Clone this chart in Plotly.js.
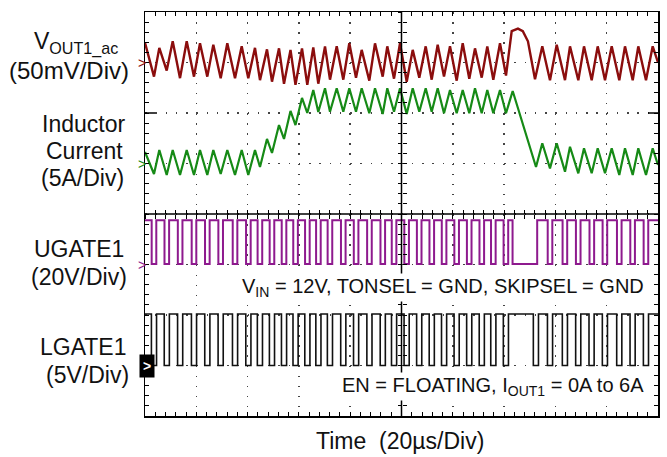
<!DOCTYPE html>
<html><head><meta charset="utf-8">
<script src="https://cdn.plot.ly/plotly-3.0.1.min.js"></script>
<style>html,body{margin:0;padding:0;background:#fff;}#chart{width:667px;height:457px;}</style>
</head><body><div id="chart"></div>
<script>
// Time base: 20 µs/div, 10 div -> 0..200 µs
// Inductor current vertices (µs, A)
const ilT = [0,3.51,5.58,8.46,10.80,13.65,16.26,19.10,21.44,24.29,26.63,29.51,32.09,35.09,37.70,40.27,42.88,44.83,47.56,49.51,52.24,54.19,56.73,58.67,61.21,63.27,65.61,67.56,70.18,72.12,74.74,77.31,79.65,82.26,84.48,87.45,89.67,92.67,94.46,97.08,99.42,102.03,104.37,106.94,109.44,111.77,114.11,116.57,118.91,121.52,123.86,126.43,128.65,131.27,133.45,135.79,138.40,140.74,143.35,152.44,154.89,157.89,160.51,163.74,165.69,168.93,171.15,174.15,176.49,179.34,181.95,184.91,187.13,190.14,192.32,195.32,197.93,200];
const ilA = [1.14,-1.04,1.34,-1.14,1.34,-1.14,1.34,-1.14,1.34,-1.14,1.34,-1.04,1.34,-1.14,1.34,-1.14,1.34,-0.35,2.43,1.04,3.81,2.43,5.20,3.81,6.49,5.00,7.28,5.10,7.45,5.13,7.45,5.13,7.45,5.13,7.45,4.97,7.45,4.90,7.45,5.13,7.45,4.90,7.45,5.13,7.45,5.13,7.45,4.97,7.28,4.97,7.28,4.97,7.45,4.97,7.28,4.97,7.28,4.97,7.18,-0.35,2.00,-0.48,2.00,-0.81,1.66,-0.97,1.50,-0.97,1.50,-0.97,1.50,-1.14,1.50,-1.14,1.50,-1.14,1.50,-0.15];

// VOUT1 ac ripple vertices (µs, mV)
const voT = [0,3.51,5.58,8.46,10.80,13.65,16.26,19.10,21.44,24.29,26.63,29.51,32.09,35.09,37.70,40.27,42.88,44.83,47.56,49.51,52.24,54.19,56.73,58.67,61.21,63.27,65.61,67.56,70.18,72.12,74.74,77.31,79.65,82.26,84.48,87.45,89.67,92.67,94.46,97.08,99.42,102.03,104.37,106.94,109.44,111.77,114.11,116.57,118.91,121.52,123.86,126.43,128.65,131.27,133.45,135.79,138.40,140.74,142.96,145.4,147.3,149.3,152.05,154.89,157.89,160.51,163.74,165.69,168.93,171.15,174.15,176.49,179.34,181.95,184.91,187.13,190.14,192.32,195.32,197.93,200];
const voMv = [19.5,-14,14.5,-8,21,-15.5,21,-14,19,-14,17.5,-15.5,19,-15.5,16,-15.5,14.5,-17.5,13,-19,14,-21,12.5,-22,14,-22,15,-21,16,-17,16,-17,19,-15,12.5,-18,19,-14,16,-16,19,-19,12.5,-15,16,-17,17.5,-14,16,-18,19,-16,14,-15,16,-17,19,-13,31,33.5,31,21,-16.5,16,-17.5,17.5,-17.5,16,-17.5,16,-17.5,16,-17.5,16,-17.5,16,-17.5,16,-17.5,16,0];

// UGATE1 low intervals (µs)
const ugLowStart = [2.6,7.6,12.8,18.2,23.4,28.6,34.2,39.4,43.9,48.6,53.3,57.8,62.4,66.7,71.2,76.4,81.4,86.6,91.8,96.2,101.1,106.0,110.9,115.7,120.6,125.5,130.4,134.9,139.8,143.3,157.0,162.8,168.0,173.3,178.4,184.0,189.2,194.4];
const ugLowEnd   = [4.4,9.4,14.6,20.0,25.2,30.4,36.0,41.2,45.7,50.4,55.1,59.6,64.2,68.5,73.0,78.2,83.2,88.4,93.6,98.0,102.9,107.8,112.7,117.5,122.4,127.3,132.2,136.7,141.6,152.9,158.8,164.6,169.8,175.1,180.2,185.8,191.0,196.2];
// LGATE1 low intervals (µs)
const lgLowStart = [2.5,7.5,12.7,18.1,23.3,28.5,34.1,39.3,43.8,48.5,53.2,57.7,62.3,66.6,71.1,76.3,81.3,86.5,91.7,96.1,101.0,105.9,110.8,115.6,120.5,125.4,130.3,134.8,139.7,151.4,156.9,162.7,167.9,173.1,178.3,183.9,189.1,194.3];
const lgLowEnd   = [4.5,9.5,14.7,20.1,25.3,30.5,36.1,41.3,45.8,50.5,55.2,59.7,64.3,68.6,73.1,78.3,83.3,88.5,93.7,98.1,103.0,107.9,112.8,117.6,122.5,127.4,132.3,136.8,141.7,153.4,158.9,164.7,169.9,175.1,180.3,185.9,191.1,196.3];
const ugLevels = [17.5, 0.2];   // V high, low
const lgLevels = [5.1, 0.0];

// channel scale (units/div) and ground offset (div)
const ch = {
  vout:{scale:50, off:3, color:'#8b0d0d'},
  il:{scale:5, off:1, color:'#168a16'},
  ug:{scale:20, off:-1, color:'#8e1a8e'},
  lg:{scale:5, off:-3, color:'#111111'}
};
const toDiv = (arr, c) => arr.map(v => c.off + v / c.scale);
function gate(ls, le, lev) {
  const x = [0], y = [lev[0]];
  for (let i = 0; i < ls.length; i++) {
    x.push(ls[i], ls[i], le[i], le[i]);
    y.push(lev[0], lev[1], lev[1], lev[0]);
  }
  x.push(200); y.push(lev[0]);
  return {x, y};
}
const ug = gate(ugLowStart, ugLowEnd, ugLevels);
const lg = gate(lgLowStart, lgLowEnd, lgLevels);

const traces = [
  {x: voT, y: toDiv(voMv, ch.vout), mode:'lines', line:{color:ch.vout.color, width:2.4}, hoverinfo:'skip'},
  {x: ilT, y: toDiv(ilA, ch.il), mode:'lines', line:{color:ch.il.color, width:2.2}, hoverinfo:'skip'},
  {x: ug.x, y: toDiv(ug.y, ch.ug), mode:'lines', line:{color:ch.ug.color, width:2}, hoverinfo:'skip'},
  {x: lg.x, y: toDiv(lg.y, ch.lg), mode:'lines', line:{color:ch.lg.color, width:1.6}, hoverinfo:'skip'},
  {x: [], y: [], xaxis:'x2', yaxis:'y', showlegend:false},
  {x: [], y: [], xaxis:'x3', yaxis:'y', showlegend:false},
  {x: [], y: [], xaxis:'x', yaxis:'y2', showlegend:false},
  {x: [], y: [], xaxis:'x', yaxis:'y3', showlegend:false}
];

const L = 145, R = 658, T = 12, B = 416;
const px = x => (x - L) / (R - L);
const py = y => (B - y) / (B - T);
const font = 'Liberation Sans, Arial, sans-serif';

const xa = {range:[0,200], tickmode:'linear', tick0:0, dtick:20, showgrid:true, gridcolor:'#444', gridwidth:1.5,
  griddash:'1.5px,8.6px', zeroline:false, showline:true, linecolor:'#000', linewidth:1.5, mirror:'ticks',
  ticks:'inside', ticklen:4, tickcolor:'#000', tickwidth:1, showticklabels:false,
  minor:{tickmode:'linear', tick0:0, dtick:4, ticks:'inside', ticklen:4, tickcolor:'#000', tickwidth:1, showgrid:false}, fixedrange:true};
const ya = {range:[-4,4], tickmode:'linear', tick0:0, dtick:1, showgrid:true, gridcolor:'#444', gridwidth:1.5,
  griddash:'1.5px,8.76px', zeroline:false, showline:true, linecolor:'#000', linewidth:1.5, mirror:'ticks',
  ticks:'inside', ticklen:4, tickcolor:'#000', tickwidth:1, showticklabels:false,
  minor:{tickmode:'linear', tick0:0, dtick:0.2, ticks:'inside', ticklen:4, tickcolor:'#000', tickwidth:1, showgrid:false}, fixedrange:true};
const cx = t => ({overlaying:'x', anchor:'free', position:0.5, range:[0,200], tickmode:'linear', tick0:0, dtick:4,
  ticks:t, ticklen:4, tickcolor:'#000', tickwidth:1, showgrid:false, zeroline:false, showline:false, showticklabels:false, fixedrange:true});
const cy = t => ({overlaying:'y', anchor:'free', position:0.5, range:[-4,4], tickmode:'linear', tick0:0, dtick:0.2,
  ticks:t, ticklen:4, tickcolor:'#000', tickwidth:1, showgrid:false, zeroline:false, showline:false, showticklabels:false, fixedrange:true});

function lab(text, xr, yc, size, color, anchor) {
  return {text, xref:'paper', yref:'paper', x:px(xr), y:py(yc), xanchor:anchor||'right', yanchor:'middle',
    showarrow:false, font:{family:font, size:size||23, color:color||'#111'}};
}
const annotations = [
  lab('V<sub>OUT1_ac</sub>', 120, 43),
  lab('(50mV/Div)', 131, 70, 24),
  lab('Inductor', 127, 124),
  lab('Current', 125, 151),
  lab('(5A/Div)', 126, 178),
  lab('UGATE1', 126, 249),
  lab('(20V/Div)', 129, 277),
  lab('LGATE1', 129, 347),
  lab('(5V/Div)', 131, 375),
  lab('Time  (20µs/Div)', 400, 441, 23, '#111', 'center'),
  Object.assign(lab('V<sub>IN</sub> = 12V, TONSEL = GND, SKIPSEL = GND', 646, 287, 20), {bgcolor:'#fff'}),
  Object.assign(lab('EN = FLOATING, I<sub>OUT1</sub> = 0A to 6A', 646, 386, 20), {bgcolor:'#fff'}),
  // channel ground markers
  {text:'&gt;', xref:'paper', yref:'y', x:px(136), y:ch.vout.off, showarrow:false, font:{family:font, size:14, color:ch.vout.color}},
  {text:'&gt;', xref:'paper', yref:'y', x:px(136), y:ch.il.off, showarrow:false, font:{family:font, size:14, color:ch.il.color}},
  {text:'&gt;', xref:'paper', yref:'y', x:px(136), y:ch.ug.off, showarrow:false, font:{family:font, size:14, color:ch.ug.color}},
  {text:'<b>&gt;</b>', xref:'paper', yref:'y', x:px(138.5), y:ch.lg.off, showarrow:false, bgcolor:'#000', borderpad:3,
   font:{family:font, size:14, color:'#fff'}}
];

const shapes = [
  {type:'line', xref:'x', yref:'paper', x0:100, x1:100, y0:0, y1:1, line:{color:'#000', width:1.5}},
  {type:'line', xref:'paper', yref:'y', x0:0, x1:1, y0:0, y1:0, line:{color:'#000', width:1.5}},
  {type:'line', xref:'paper', yref:'y', x0:0, x1:px(155), y0:2, y1:2, line:{color:'#000', width:1.5}},
  {type:'line', xref:'paper', yref:'y', x0:px(648), x1:1, y0:2, y1:2, line:{color:'#000', width:1.5}}
];

const layout = {
  width:667, height:457, margin:{l:L, r:667-R, t:T, b:457-B, pad:0},
  paper_bgcolor:'#fff', plot_bgcolor:'#fff', showlegend:false,
  xaxis:xa, yaxis:ya, xaxis2:cx('outside'), xaxis3:cx('inside'), yaxis2:cy('outside'), yaxis3:cy('inside'),
  annotations, shapes, font:{family:font}
};
Plotly.newPlot('chart', traces, layout, {staticPlot:true, displayModeBar:false});
</script></body></html>
